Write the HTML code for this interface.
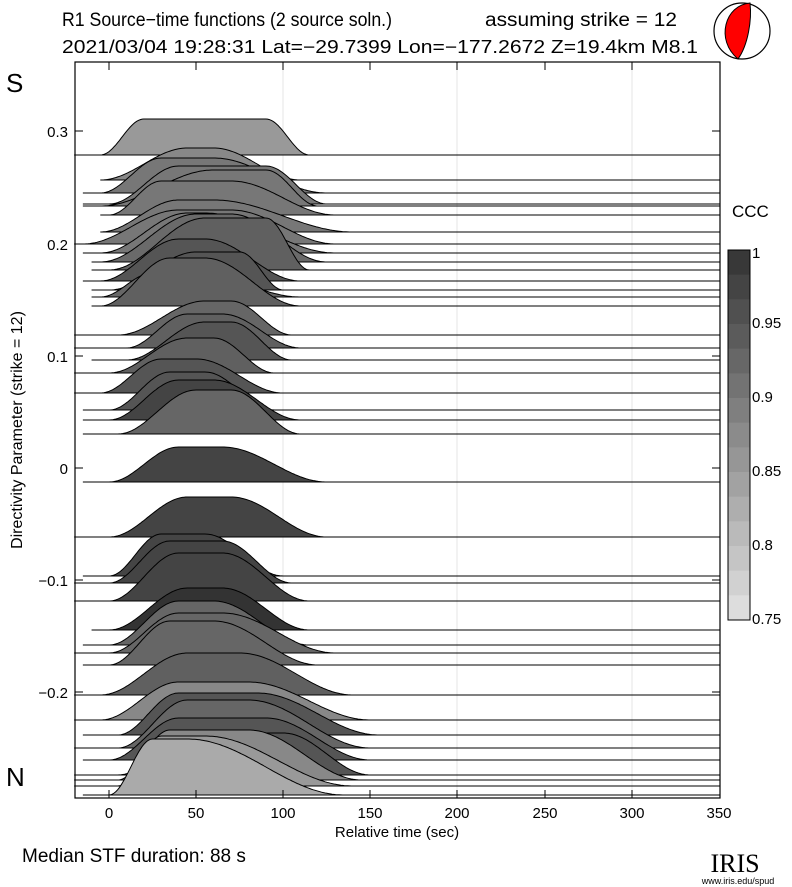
<!DOCTYPE html><html><head><style>body{margin:0;background:#fff}svg{display:block;font-family:"Liberation Sans",sans-serif}</style></head><body>
<svg id="s" width="792" height="887" viewBox="0 0 792 887">
<rect width="792" height="887" fill="#fff"/>
<text x="62" y="26" font-size="19" textLength="330" lengthAdjust="spacingAndGlyphs">R1 Source−time functions (2 source soln.)</text>
<text x="485" y="26" font-size="19" textLength="192" lengthAdjust="spacingAndGlyphs">assuming strike = 12</text>
<text x="62" y="53" font-size="18" textLength="636" lengthAdjust="spacingAndGlyphs">2021/03/04 19:28:31  Lat=−29.7399 Lon=−177.2672  Z=19.4km  M8.1</text>
<circle cx="742" cy="31" r="28" fill="#fff" stroke="#000" stroke-width="1.2"/>
<path d="M750,3 C725,5 715,40 738,59 C748,45 752,20 750,3 Z" fill="#f00" stroke="#000"/>
<text x="6" y="92" font-size="26">S</text>
<text x="6" y="786" font-size="26">N</text>
<g stroke="#e4e4e4"><line x1="283" y1="62" x2="283" y2="798"/><line x1="457" y1="62" x2="457" y2="798"/><line x1="632" y1="62" x2="632" y2="798"/></g>
<g id="tr"></g>
<rect x="75" y="62" width="645" height="736" fill="none" stroke="#000" stroke-width="1.2"/>
<g stroke="#000" id="ticks"></g>
<g font-size="15" text-anchor="end"><text x="68" y="137">0.3</text><text x="68" y="250">0.2</text><text x="68" y="362">0.1</text><text x="68" y="474">0</text><text x="68" y="586">−0.1</text><text x="68" y="698">−0.2</text></g>
<g font-size="15" text-anchor="middle"><text x="109" y="818">0</text><text x="196" y="818">50</text><text x="283" y="818">100</text><text x="370" y="818">150</text><text x="457" y="818">200</text><text x="545" y="818">250</text><text x="632" y="818">300</text><text x="719" y="818">350</text></g>
<text x="397" y="837" font-size="15" text-anchor="middle">Relative time (sec)</text>
<text transform="translate(22,430) rotate(-90)" font-size="16" text-anchor="middle">Directivity Parameter (strike = 12)</text>
<text x="22" y="862" font-size="19">Median STF duration: 88 s</text>
<text x="732" y="217" font-size="17">CCC</text>
<g id="cb"></g>
<rect x="728" y="250" width="22" height="370" fill="none" stroke="#000"/>
<g font-size="15"><text x="752" y="258">1</text><text x="752" y="328">0.95</text><text x="752" y="402">0.9</text><text x="752" y="476">0.85</text><text x="752" y="550">0.8</text><text x="752" y="624">0.75</text></g>
<text x="735" y="872" font-size="26" font-family="Liberation Serif" text-anchor="middle">IRIS</text>
<text x="738" y="884" font-size="9" text-anchor="middle">www.iris.edu/spud</text>
</svg>
<script>
const X=t=>109+t*1.743;
const T=[
[155,-20,-5,20,90,115,36,"#999"],
[180,-5,-5,45,60,110,32,"#888"],
[193,-15,-5,30,60,125,35,"#777"],
[204,-15,0,40,90,125,38,"#777"],
[206,-15,-5,60,90,120,36,"#777"],
[215,-5,0,30,70,130,34,"#777"],
[232,-5,-5,40,60,140,32,"#777"],
[244,-20,-15,40,70,130,34,"#777"],
[253,-15,-5,45,55,130,40,"#777"],
[262,-10,-5,50,70,125,48,"#6a6a6a"],
[270,-10,0,55,90,115,52,"#606060"],
[281,-15,-5,40,55,110,42,"#555"],
[290,-10,0,50,75,100,38,"#555"],
[297,-10,-5,25,50,110,24,"#666"],
[306,-10,-5,35,55,110,48,"#606060"],
[335,-20,5,55,70,105,34,"#666"],
[348,-20,10,45,65,110,34,"#606060"],
[360,-10,10,55,70,105,38,"#555"],
[373,-20,0,45,60,95,35,"#606060"],
[393,-20,-5,30,50,100,34,"#555"],
[410,-15,0,35,55,95,38,"#555"],
[420,-15,0,40,60,110,40,"#444"],
[434,-15,5,50,70,110,44,"#666"],
[482,-15,0,40,65,125,35,"#444"],
[537,-20,0,45,70,125,40,"#444"],
[576,-15,0,30,55,100,42,"#454545"],
[583,-20,0,35,65,105,42,"#444"],
[601,-20,0,40,65,115,48,"#444"],
[630,-10,0,45,65,115,42,"#333"],
[645,-15,0,40,60,115,44,"#666"],
[653,-20,0,40,65,130,40,"#666"],
[665,-15,0,35,60,120,44,"#666"],
[695,-20,-5,45,75,140,42,"#606060"],
[720,-20,-5,40,80,150,38,"#888"],
[735,-15,5,40,85,155,42,"#555"],
[748,-20,5,45,80,150,48,"#666"],
[760,-15,0,40,90,150,42,"#555"],
[775,-20,5,50,100,150,42,"#555"],
[780,-20,5,35,80,145,50,"#888"],
[786,-20,5,30,55,140,50,"#999"],
[795,-15,0,25,45,135,56,"#aaa"]];
let h="";
for(const [y,s,a,b,c,d,H,g] of T){
 let p=`M${X(s)},${y} L${X(a)},${y}`;
 for(let t=a;t<=d;t+=1){let v;
  if(t<b)v=(1-Math.cos(Math.PI*(t-a)/(b-a)))/2;else if(t<=c)v=1;else v=(1+Math.cos(Math.PI*(t-c)/(d-c)))/2;
  p+=` L${X(t).toFixed(1)},${(y-H*v).toFixed(1)}`;}
 p+=` L720,${y}`;
 h+=`<path d="${p} Z" fill="${g}" stroke="#000" stroke-width="1"/>`;
}
document.getElementById("tr").innerHTML=h;
let k="";[131,244,356,468,580,692].forEach(y=>k+=`<line x1="75" x2="83" y1="${y}" y2="${y}"/><line x1="712" x2="720" y1="${y}" y2="${y}"/>`);
[109,196,283,370,457,545,632].forEach(x=>k+=`<line x1="${x}" x2="${x}" y1="790" y2="798"/><line x1="${x}" x2="${x}" y1="62" y2="70"/>`);
document.getElementById("ticks").innerHTML=k;
let c="";for(let i=0;i<15;i++){const v=Math.round(0x38+i*(0xdd-0x38)/14);c+=`<rect x="728" y="${250+i*370/15}" width="22" height="${370/15+0.5}" fill="rgb(${v},${v},${v})"/>`;}
document.getElementById("cb").innerHTML=c;
</script>
</body></html>
